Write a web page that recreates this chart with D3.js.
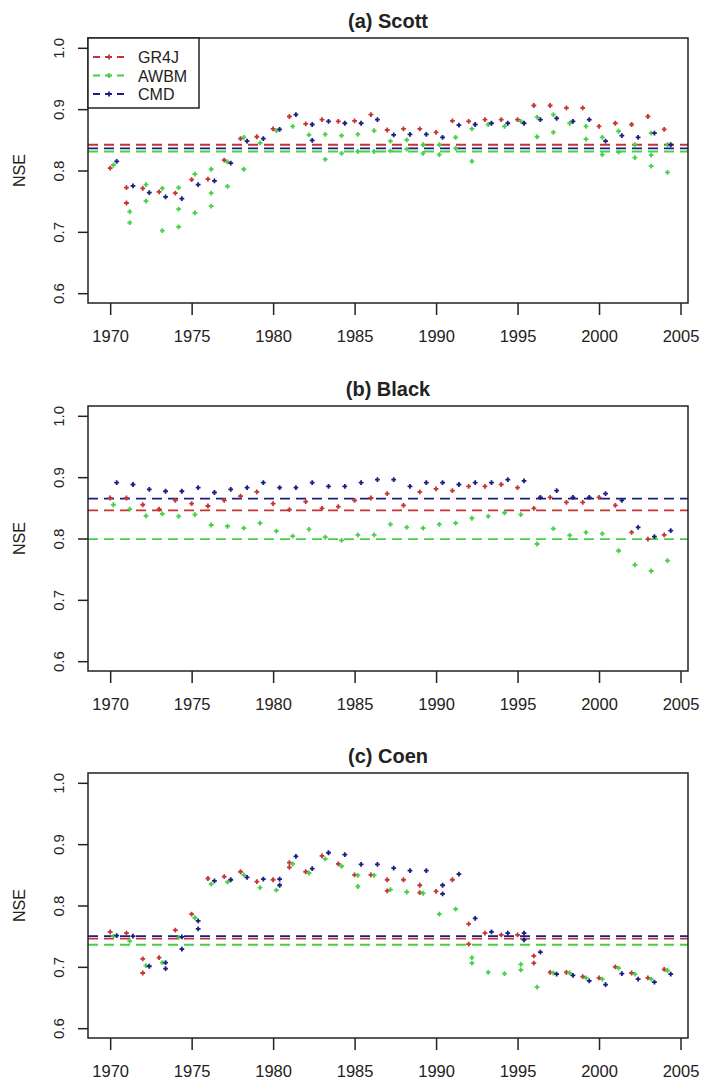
<!DOCTYPE html>
<html>
<head>
<meta charset="utf-8">
<script src="https://cdn.jsdelivr.net/npm/d3@7"></script>
<style>
  html, body { margin: 0; padding: 0; background: #fff; }
  svg { display: block; }
  text { font-family: Arial, "Liberation Sans", sans-serif; fill: #222; }
</style>
</head>
<body>
<svg id="chart" width="703" height="1080"></svg>
<script>
// ---------------- DATA ----------------
const years = [1970,1971,1972,1973,1974,1975,1976,1977,1978,1979,
               1980,1981,1982,1983,1984,1985,1986,1987,1988,1989,
               1990,1991,1992,1993,1994,1995,1996,1997,1998,1999,
               2000,2001,2002,2003,2004];
const models = ["GR4J", "AWBM", "CMD"];
const xTicks = [1970, 1975, 1980, 1985, 1990, 1995, 2000, 2005];
const yTicks = [0.6, 0.7, 0.8, 0.9, 1.0];
const panelTitles = ["(a) Scott", "(b) Black", "(c) Coen"];

// (a) Scott
const scottGR4J = [0.804,0.772,0.771,0.765,0.763,0.785,0.786,0.817,0.852,0.855,
                   0.868,0.888,0.876,0.883,0.880,0.881,0.891,0.866,0.868,0.868,
                   0.862,0.881,0.880,0.883,0.883,0.883,0.906,0.906,0.902,0.902,
                   0.872,0.877,0.875,0.888,0.867];
const scottAWBM = [0.809,0.733,0.777,0.771,0.772,0.794,0.802,0.814,0.854,0.845,
                   0.865,0.872,0.858,0.859,0.857,0.859,0.865,0.848,0.850,0.842,
                   0.842,0.854,0.868,0.875,0.872,0.880,0.887,0.891,0.877,0.872,
                   0.854,0.864,0.842,0.861,0.842];
const scottCMD  = [0.815,0.775,0.764,0.757,0.754,0.777,0.783,0.812,0.848,0.852,
                   0.867,0.891,0.875,0.880,0.877,0.877,0.883,0.858,0.859,0.859,
                   0.854,0.874,0.875,0.877,0.877,0.877,0.883,0.885,0.880,0.883,
                   0.848,0.857,0.854,0.861,0.842];
const scottExtraGR4J = [[1971,0.747]];
const scottExtraAWBM = [[1971,0.715],[1972,0.750],[1973,0.702],[1974,0.737],[1974,0.708],
                        [1975,0.731],[1976,0.763],[1976,0.742],[1977,0.774],[1978,0.802],
                        [1983,0.818],[1984,0.828],[1985,0.831],[1986,0.831],[1987,0.832],
                        [1988,0.835],[1989,0.828],[1990,0.826],[1991,0.836],[1992,0.815],
                        [1996,0.855],[1997,0.862],[1999,0.851],[2000,0.826],[2001,0.830],
                        [2002,0.821],[2003,0.825],[2003,0.807],[2004,0.797]];
const scottExtraCMD  = [[1982,0.849]];
const scottOverall   = [0.842, 0.831, 0.836];

// (b) Black
const blackGR4J = [0.866,0.866,0.855,0.848,0.862,0.857,0.853,0.862,0.869,0.876,
                   0.857,0.847,0.860,0.849,0.852,0.862,0.866,0.873,0.854,0.876,
                   0.881,0.878,0.885,0.885,0.888,0.883,0.849,0.867,0.859,0.859,
                   0.867,0.854,0.810,0.799,0.806];
const blackAWBM = [0.855,0.848,0.837,0.840,0.836,0.839,0.822,0.820,0.817,0.825,
                   0.812,0.804,0.815,0.802,0.797,0.806,0.806,0.823,0.818,0.817,
                   0.823,0.825,0.833,0.836,0.842,0.839,0.791,0.816,0.805,0.810,
                   0.808,0.780,0.757,0.747,0.764];
const blackCMD  = [0.891,0.888,0.880,0.877,0.877,0.883,0.875,0.880,0.883,0.891,
                   0.883,0.883,0.891,0.885,0.885,0.891,0.896,0.896,0.885,0.891,
                   0.891,0.888,0.891,0.891,0.896,0.894,0.867,0.878,0.867,0.867,
                   0.873,0.862,0.818,0.803,0.813];
const blackExtraGR4J = [];
const blackExtraAWBM = [];
const blackExtraCMD  = [];
const blackOverall   = [0.846, 0.799, 0.865];

// (c) Coen
const coenGR4J = [0.757,0.755,0.713,0.715,0.760,0.786,0.844,0.847,0.855,0.839,
                  0.842,0.870,0.855,0.881,0.868,0.850,0.850,0.842,0.842,0.833,
                  0.823,0.842,0.770,0.755,0.752,0.752,0.718,0.691,0.691,0.684,
                  0.682,0.700,0.690,0.682,0.696];
const coenAWBM = [0.750,0.742,0.702,0.707,0.748,0.780,0.835,0.838,0.850,0.829,
                  0.825,0.868,0.853,0.876,0.864,0.849,0.849,0.826,0.822,0.820,
                  0.786,0.794,0.715,0.691,0.689,0.704,0.667,0.690,0.690,0.682,
                  0.680,0.698,0.688,0.680,0.694];
const coenCMD  = [0.751,0.750,0.701,0.707,0.749,0.775,0.840,0.842,0.846,0.843,
                  0.843,0.880,0.860,0.886,0.883,0.867,0.867,0.861,0.857,0.857,
                  0.833,0.851,0.779,0.757,0.755,0.755,0.724,0.688,0.686,0.677,
                  0.671,0.689,0.680,0.675,0.688];
const coenExtraGR4J = [[1972,0.690],[1981,0.862],[1987,0.824],[1989,0.821],[1992,0.737],[1996,0.706]];
const coenExtraAWBM = [[1985,0.831],[1992,0.706],[1995,0.695]];
const coenExtraCMD  = [[1973,0.697],[1974,0.729],[1975,0.762],[1980,0.833],[1990,0.819],[1995,0.744]];
const coenOverall   = [0.746, 0.736, 0.750];

// ---------------- BUILD ----------------
const panels = [
  { title: panelTitles[0], series: [scottGR4J, scottAWBM, scottCMD],
    extras: [scottExtraGR4J, scottExtraAWBM, scottExtraCMD], overall: scottOverall, legend: true },
  { title: panelTitles[1], series: [blackGR4J, blackAWBM, blackCMD],
    extras: [blackExtraGR4J, blackExtraAWBM, blackExtraCMD], overall: blackOverall, legend: false },
  { title: panelTitles[2], series: [coenGR4J, coenAWBM, coenCMD],
    extras: [coenExtraGR4J, coenExtraAWBM, coenExtraCMD], overall: coenOverall, legend: false }
];

const colors = ["#c43434", "#46d046", "#1c1c82"];
const offsets = [0.0, 0.2, 0.4];
const svg = d3.select("#chart");

const left = 88, right = 688, plotH = 265;
const tops = [38, 406, 773];

const x = d3.scaleLinear().domain([1968.64, 2005.46]).range([left, right]);

function plus(px, py, r) {
  return `M${px - r},${py}h${2 * r}M${px},${py - r}v${2 * r}`;
}

panels.forEach((p, i) => {
  const top = tops[i], bottom = top + plotH;
  const y = d3.scaleLinear().domain([0.584, 1.016]).range([bottom, top]);
  const g = svg.append("g");

  // title
  g.append("text")
    .attr("x", (left + right) / 2).attr("y", top - 10)
    .attr("text-anchor", "middle")
    .style("font-size", "20px").style("font-weight", "bold")
    .text(p.title);

  // overall dashed lines
  p.overall.forEach((v, k) => {
    g.append("line")
      .attr("x1", left).attr("x2", right)
      .attr("y1", y(v)).attr("y2", y(v))
      .attr("stroke", colors[k]).attr("stroke-width", 1.8)
      .attr("stroke-dasharray", "10,6");
  });

  // points
  p.series.forEach((vals, k) => {
    const pts = vals.map((v, j) => [years[j], v]).concat(p.extras[k]);
    g.append("g").selectAll("path").data(pts).join("path")
      .attr("d", d => plus(x(d[0] + offsets[k]), y(d[1]), 2.4))
      .attr("stroke", colors[k]).attr("stroke-width", 1.8)
      .attr("fill", "none");
  });

  // frame
  g.append("rect")
    .attr("x", left).attr("y", top)
    .attr("width", right - left).attr("height", plotH)
    .attr("fill", "none").attr("stroke", "#222").attr("stroke-width", 1.5);

  // x axis
  const xa = g.append("g").attr("transform", `translate(0,${bottom})`)
    .call(d3.axisBottom(x).tickValues(xTicks).tickFormat(d3.format("d"))
      .tickSize(12).tickPadding(15));
  xa.select(".domain").remove();
  xa.selectAll("line").attr("stroke", "#222").attr("stroke-width", 1.5);
  xa.selectAll("text").style("font-size", "16.5px").attr("fill", "#222");

  // y axis
  const ya = g.append("g").attr("transform", `translate(${left},0)`)
    .call(d3.axisLeft(y).tickValues(yTicks).tickFormat(d3.format(".1f")).tickSize(10));
  ya.select(".domain").remove();
  ya.selectAll("line").attr("stroke", "#222").attr("stroke-width", 1.5);
  ya.selectAll("text")
    .style("font-size", "15px").attr("fill", "#222")
    .attr("x", 0).attr("dy", null).attr("y", 0)
    .attr("text-anchor", "middle")
    .attr("transform", "translate(-24,0) rotate(-90)");

  // y label
  g.append("text")
    .attr("transform", `translate(25,${(top + bottom) / 2}) rotate(-90)`)
    .attr("text-anchor", "middle")
    .style("font-size", "16px")
    .text("NSE");

  // legend
  if (p.legend) {
    const lg = g.append("g");
    lg.append("rect")
      .attr("x", left).attr("y", top).attr("width", 111).attr("height", 70)
      .attr("fill", "#fff").attr("stroke", "#222").attr("stroke-width", 1.5);
    models.forEach((m, k) => {
      const ly = top + 19 + k * 18.5;
      lg.append("line")
        .attr("x1", left + 4).attr("x2", left + 38)
        .attr("y1", ly).attr("y2", ly)
        .attr("stroke", colors[k]).attr("stroke-width", 1.8)
        .attr("stroke-dasharray", "7,5").attr("stroke-dashoffset", -1);
      lg.append("path")
        .attr("d", plus(left + 21, ly, 2.4))
        .attr("stroke", colors[k]).attr("stroke-width", 1.8);
      lg.append("text")
        .attr("x", left + 50).attr("y", ly + 6)
        .style("font-size", "16px")
        .text(m);
    });
  }
});
</script>
</body>
</html>
